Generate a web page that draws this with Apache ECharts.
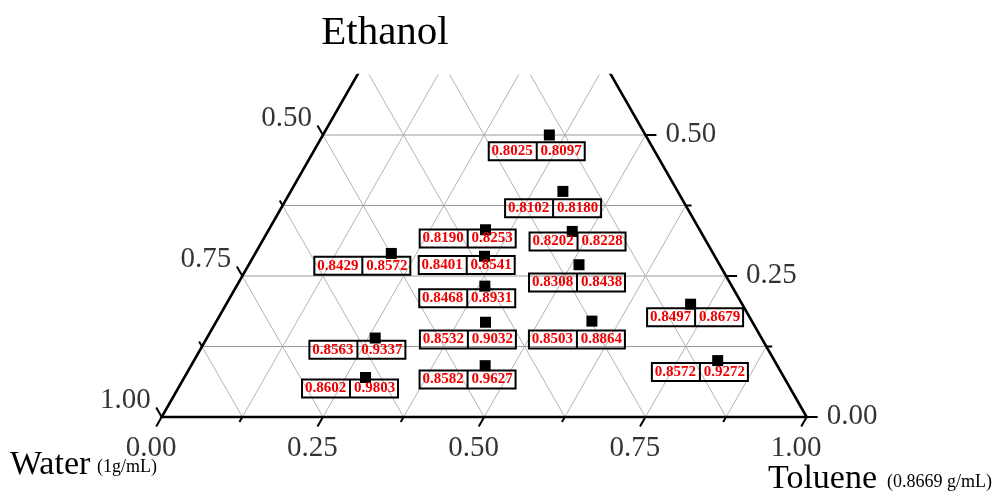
<!DOCTYPE html>
<html>
<head>
<meta charset="utf-8">
<script src="https://cdn.jsdelivr.net/npm/echarts@6/dist/echarts.min.js"></script>
<style>html,body{margin:0;padding:0;background:#fff}#c{width:1003px;height:494px}</style>
</head>
<body>
<div id="c"></div>
<script>
// ---- data (ternary fractions) ----
const toluene = [0.351, 0.422, 0.336, 0.472, 0.211, 0.358, 0.512, 0.385, 0.720, 0.418, 0.582, 0.261, 0.812, 0.456, 0.281];
const ethanol = [0.500, 0.400, 0.332, 0.329, 0.290, 0.285, 0.270, 0.232, 0.200, 0.168, 0.170, 0.140, 0.100, 0.091, 0.070];
const labelLeft  = ['0.8025','0.8102','0.8190','0.8202','0.8429','0.8401','0.8308','0.8468','0.8497','0.8532','0.8503','0.8563','0.8572','0.8582','0.8602'];
const labelRight = ['0.8097','0.8180','0.8253','0.8228','0.8572','0.8541','0.8438','0.8931','0.8679','0.9032','0.8864','0.9337','0.9272','0.9627','0.9803'];
const bottomTicks = ['0.00','0.25','0.50','0.75','1.00'];      // Toluene
const leftTicks   = ['1.00','0.75','0.50'];                     // Water
const rightTicks  = ['0.00','0.25','0.50'];                     // Ethanol
const gridSteps = [0.125, 0.25, 0.375, 0.5, 0.625, 0.75, 0.875];

// ---- layout (not data) ----
const labelOffsets = [[-12.6,16.2],[-9.8,16.8],[-17.8,8.7],[5.3,10.1],[-29,12.2],[-17.8,8.7],[-2,17.8],[-17.6,12.1],[4.5,13],[-17.6,17.2],[-15,18.5],[-17.8,11.7],[-17.8,11.5],[-17.6,13.8],[-15.5,11.1]];
const W = 1003, H = 494;
const X0 = 161.7, Y0 = 417, SX = 645, SY = 564, TOP = 75;
const SERIF = '"Liberation Serif", "Times New Roman", serif';

function tern(t, e) { return [t + e / 2, e]; }

const series = [];
function seg(p1, p2, color, width, z) {
  series.push({ type: 'line', data: [p1, p2], symbol: 'none', silent: true, clip: true, z: z,
    lineStyle: { color: color, width: width, opacity: 1 }, animation: false });
}
// grid lines
gridSteps.forEach(s => {
  seg(tern(0, s), tern(1 - s, s), '#9a9a9a', 1, 1);       // constant ethanol
  seg(tern(s, 0), tern(s, 1 - s), '#b4b4b4', 1, 1);       // constant toluene
  seg(tern(1 - s, 0), tern(0, 1 - s), '#b4b4b4', 1, 1);   // constant water
});
// triangle frame
series.push({ type: 'line', data: [tern(0, 1), tern(0, 0), tern(1, 0), tern(0, 1)], symbol: 'none', clip: true, z: 3,
  silent: true, lineStyle: { color: '#000', width: 2.6, join: 'miter', opacity: 1 }, animation: false });
// ticks
const tMaj = 0.017, tMin = 0.009;
[0, 0.125, 0.25, 0.375, 0.5].forEach(e => {
  const t = (Math.abs(e * 4 - Math.round(e * 4)) < 1e-9) ? tMaj : tMin;
  seg(tern(0, e), tern(-t, e + t), '#000', 2, 3);          // water axis (left)
  seg(tern(1 - e, e), tern(1 - e + t, e), '#000', 2, 3);   // ethanol axis (right)
});
[0, 0.125, 0.25, 0.375, 0.5, 0.625, 0.75, 0.875, 1].forEach(v => {
  const t = (Math.abs(v * 4 - Math.round(v * 4)) < 1e-9) ? tMaj : tMin;
  seg(tern(v, 0), tern(v, -t), '#000', 2, 3);              // toluene axis (bottom)
});
// tick labels
const tickLabelStyle = { show: true, position: 'inside', color: '#000', fontFamily: SERIF, fontSize: 29, textBorderWidth: 0 };
series.push({ type: 'scatter', symbolSize: 1, itemStyle: { color: 'rgba(0,0,0,0)' }, silent: true, z: 4, animation: false,
  data: bottomTicks.map(s => ({ value: tern(parseFloat(s), 0), name: s })),
  label: Object.assign({}, tickLabelStyle, { formatter: p => p.name, align: 'center', verticalAlign: 'middle', offset: [-10.5, 31] }) });
series.push({ type: 'scatter', symbolSize: 1, itemStyle: { color: 'rgba(0,0,0,0)' }, silent: true, z: 4, animation: false,
  data: leftTicks.map(s => ({ value: tern(0, 1 - parseFloat(s)), name: s })),
  label: Object.assign({}, tickLabelStyle, { formatter: p => p.name, align: 'right', verticalAlign: 'middle', offset: [-11, -17] }) });
series.push({ type: 'scatter', symbolSize: 1, itemStyle: { color: 'rgba(0,0,0,0)' }, silent: true, z: 4, animation: false,
  data: rightTicks.map(s => ({ value: tern(1 - parseFloat(s), parseFloat(s)), name: s })),
  label: Object.assign({}, tickLabelStyle, { formatter: p => p.name, align: 'left', verticalAlign: 'middle', offset: [20, -1] }) });
// data points with boxed labels
series.push({
  type: 'scatter', symbol: 'rect', symbolSize: 11, z: 5, animation: false,
  itemStyle: { color: '#000', opacity: 1 },
  data: toluene.map((t, i) => ({ value: tern(t, ethanol[i]), label: { offset: labelOffsets[i] } })),
  label: {
    show: true, position: 'inside', align: 'center', verticalAlign: 'middle',
    formatter: p => '{v|' + labelLeft[p.dataIndex] + '}{s|}{v|' + labelRight[p.dataIndex] + '}',
    borderColor: '#000', borderWidth: 2, padding: 0, color: '#ff0000', textBorderWidth: 0,
    rich: {
      v: { color: '#f00000', fontWeight: 'bold', fontFamily: SERIF, fontSize: 15, width: 47, align: 'center', lineHeight: 18, height: 18, textBorderWidth: 0 },
      s: { width: 2, height: 18, lineHeight: 18, backgroundColor: '#000' }
    }
  }
});

const option = {
  backgroundColor: '#fff',
  animation: false,
  grid: { left: 0, right: 0, top: TOP, bottom: 0, containLabel: false, outerBoundsMode: 'none' },
  xAxis: { type: 'value', min: -X0 / SX, max: (W - X0) / SX, show: false },
  yAxis: { type: 'value', min: -(H - Y0) / SY, max: (Y0 - TOP) / SY, show: false },
  graphic: [
    { type: 'text', x: 385, y: 33, z: 10, style: { text: 'Ethanol', font: '41px ' + SERIF, fill: '#000', textAlign: 'center', textVerticalAlign: 'middle' } },
    { type: 'text', x: 10, y: 465, z: 10, style: { text: 'Water', font: '34px ' + SERIF, fill: '#000', textAlign: 'left', textVerticalAlign: 'middle' } },
    { type: 'text', x: 97, y: 467, z: 10, style: { text: '(1g/mL)', font: '18px ' + SERIF, fill: '#000', textAlign: 'left', textVerticalAlign: 'middle' } },
    { type: 'text', x: 768, y: 479, z: 10, style: { text: 'Toluene', font: '34px ' + SERIF, fill: '#000', textAlign: 'left', textVerticalAlign: 'middle' } },
    { type: 'text', x: 887, y: 482, z: 10, style: { text: '(0.8669 g/mL)', font: '18px ' + SERIF, fill: '#000', textAlign: 'left', textVerticalAlign: 'middle' } }
  ],
  series: series
};
const chart = echarts.init(document.getElementById('c'), null, { renderer: 'canvas' });
chart.setOption(option);
</script>
</body>
</html>
